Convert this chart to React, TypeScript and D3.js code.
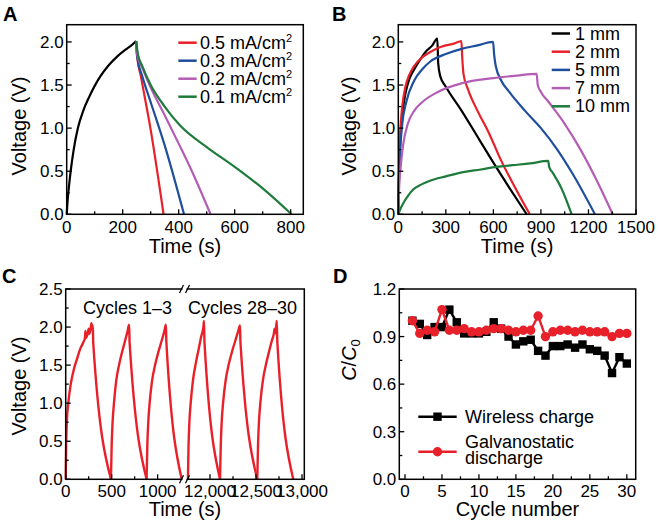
import React from "react";
import * as d3 from "d3";

type Pt = [number, number];
const FONT = "'Liberation Sans', Arial, Helvetica, sans-serif";

const RED = "#e8202a";
const BLUE = "#1f4e9e";
const PURPLE = "#b35db5";
const GREEN = "#1e7b3c";
const BLACK = "#000000";

// ---------- Panel A ----------
const aCharge: Pt[] = [[0, 0], [3, 0.15], [8, 0.32], [15, 0.52], [25, 0.75], [40, 1.0], [60, 1.21], [80, 1.36], [100, 1.49], [120, 1.6], [150, 1.73], [180, 1.83], [210, 1.91], [235, 1.97], [248, 2.01]];
const aDis05: Pt[] = [[248, 2.01], [251, 1.85], [265, 1.6], [300, 0.98], [346, 0]];
const aDis03: Pt[] = [[248, 2.01], [252, 1.82], [270, 1.6], [300, 1.3], [350, 0.8], [419, 0]];
const aDis02: Pt[] = [[248, 2.01], [252, 1.85], [270, 1.7], [300, 1.47], [350, 1.15], [400, 0.82], [450, 0.48], [514, 0]];
const aDis01: Pt[] = [[248, 2.01], [255, 1.85], [270, 1.72], [300, 1.5], [350, 1.25], [405, 1.03], [500, 0.78], [600, 0.55], [700, 0.3], [803, 0]];
const aLegend = ["0.5", "0.3", "0.2", "0.1"];
const aColors = [RED, BLUE, PURPLE, GREEN];

// ---------- Panel B ----------
const b1mm: Pt[] = [[0, 0], [5, 0.5], [12, 0.85], [25, 1.15], [45, 1.4], [70, 1.57], [100, 1.68], [140, 1.8], [180, 1.9], [215, 1.96], [246, 2.04], [252, 1.75], [265, 1.6], [300, 1.48], [400, 1.2], [500, 0.9], [600, 0.6], [700, 0.31], [810, 0]];
const b2mm: Pt[] = [[0, 0], [5, 0.6], [12, 0.95], [25, 1.25], [45, 1.48], [70, 1.62], [100, 1.72], [150, 1.82], [200, 1.88], [250, 1.93], [300, 1.96], [350, 1.98], [398, 2.01], [404, 1.8], [412, 1.62], [440, 1.45], [500, 1.2], [570, 0.95], [650, 0.62], [740, 0.3], [830, 0]];
const b5mm: Pt[] = [[0, 0], [5, 0.45], [12, 0.75], [25, 1.05], [50, 1.3], [100, 1.55], [150, 1.68], [200, 1.77], [300, 1.86], [400, 1.92], [500, 1.96], [598, 2.0], [605, 1.85], [615, 1.72], [650, 1.55], [700, 1.42], [800, 1.2], [900, 1.0], [1000, 0.76], [1100, 0.47], [1241, 0]];
const b7mm: Pt[] = [[0, 0], [5, 0.3], [15, 0.55], [30, 0.8], [60, 1.05], [100, 1.2], [150, 1.3], [250, 1.42], [400, 1.52], [600, 1.58], [750, 1.61], [873, 1.63], [880, 1.5], [900, 1.42], [950, 1.3], [1050, 1.05], [1150, 0.75], [1250, 0.4], [1353, 0]];
const b10mm: Pt[] = [[0, 0], [15, 0.07], [35, 0.14], [60, 0.21], [95, 0.29], [150, 0.35], [200, 0.39], [300, 0.44], [410, 0.49], [520, 0.52], [620, 0.55], [720, 0.57], [831, 0.59], [946, 0.62], [952, 0.55], [975, 0.48], [1030, 0.3], [1094, 0]];
const bLegend = ["1 mm", "2 mm", "5 mm", "7 mm", "10 mm"];
const bColors = [BLACK, RED, BLUE, PURPLE, GREEN];

// ---------- Panel C (one array per cycle) ----------
const cCycle1: Pt[] = [[0, 0], [5, 0.45], [12, 0.75], [28, 1.0], [55, 1.25], [90, 1.45], [120, 1.57], [160, 1.72], [192, 1.8], [210, 1.86], [215, 1.95], [222, 1.86], [240, 1.92], [250, 1.98], [256, 1.91], [270, 1.97], [280, 2.05], [286, 1.97], [295, 2.02], [299, 1.8], [492, 0]];
const cCycle2: Pt[] = [[492, 0], [500, 0.45], [510, 0.75], [525, 1.0], [550, 1.3], [580, 1.5], [615, 1.68], [646, 1.82], [672, 1.94], [690, 2.03], [695, 1.8], [880, 0]];
const cCycle3: Pt[] = [[880, 0], [888, 0.45], [898, 0.75], [913, 1.0], [940, 1.3], [972, 1.5], [1010, 1.68], [1044, 1.82], [1072, 1.94], [1090, 2.03], [1095, 1.8], [1262, 0]];
const cCycle28: Pt[] = [[11760, 0], [11767, 0.45], [11776, 0.75], [11790, 1.0], [11815, 1.3], [11845, 1.52], [11875, 1.7], [11905, 1.88], [11928, 2.0], [11935, 2.08], [11940, 1.8], [12109, 0]];
const cCycle29: Pt[] = [[12109, 0], [12117, 0.45], [12127, 0.75], [12142, 1.0], [12170, 1.3], [12202, 1.5], [12240, 1.68], [12275, 1.82], [12305, 1.94], [12326, 2.02], [12331, 1.8], [12514, 0]];
const cCycle30: Pt[] = [[12514, 0], [12522, 0.45], [12532, 0.75], [12547, 1.0], [12575, 1.3], [12607, 1.5], [12642, 1.68], [12672, 1.82], [12695, 1.92], [12702, 1.98], [12710, 1.92], [12718, 1.97], [12725, 2.08], [12732, 1.8], [12905, 0]];

// ---------- Panel D ----------
const dCycles = d3.range(1, 31);
const dWireless = [1.0, 0.98, 0.91, 0.96, 0.96, 1.07, 0.99, 0.92, 0.92, 0.92, 0.93, 0.99, 0.95, 0.9, 0.85, 0.87, 0.88, 0.81, 0.78, 0.84, 0.84, 0.85, 0.83, 0.85, 0.82, 0.81, 0.78, 0.67, 0.77, 0.73];
const dGalvano = [1.0, 0.92, 0.94, 0.93, 1.07, 0.94, 0.94, 0.95, 0.93, 0.93, 0.94, 0.95, 0.95, 0.94, 0.93, 0.94, 0.94, 1.03, 0.9, 0.93, 0.94, 0.94, 0.93, 0.94, 0.93, 0.93, 0.93, 0.9, 0.92, 0.92];

type Scale = d3.ScaleLinear<number, number>;

function Frame({ x0, x1, y0, y1 }: { x0: number; x1: number; y0: number; y1: number }) {
  return <rect x={x0} y={y0} width={x1 - x0} height={y1 - y0} fill="none" stroke="#000" strokeWidth={1.5} />;
}

function XTicks({ x, y0, major, minor, labelY, fmt, fs = 17 }: { x: Scale; y0: number; major: number[]; minor: number[]; labelY: number; fmt: (v: number) => string; fs?: number }) {
  return (
    <g>
      {major.map((v) => (
        <line key={"M" + v} x1={x(v)} x2={x(v)} y1={y0} y2={y0 - 5} stroke="#000" strokeWidth={1.3} />
      ))}
      {minor.map((v) => (
        <line key={"m" + v} x1={x(v)} x2={x(v)} y1={y0} y2={y0 - 3} stroke="#000" strokeWidth={1.3} />
      ))}
      {major.map((v) => (
        <text key={"t" + v} x={x(v)} y={labelY} textAnchor="middle" fontSize={fs} fontFamily={FONT}>
          {fmt(v)}
        </text>
      ))}
    </g>
  );
}

function YTicks({ y, x0, major, minor, fmt, fs = 17 }: { y: Scale; x0: number; major: number[]; minor: number[]; fmt: (v: number) => string; fs?: number }) {
  return (
    <g>
      {major.map((v) => (
        <line key={"M" + v} x1={x0} x2={x0 + 5} y1={y(v)} y2={y(v)} stroke="#000" strokeWidth={1.3} />
      ))}
      {minor.map((v) => (
        <line key={"m" + v} x1={x0} x2={x0 + 3} y1={y(v)} y2={y(v)} stroke="#000" strokeWidth={1.3} />
      ))}
      {major.map((v) => (
        <text key={"t" + v} x={x0 - 3} y={y(v) + 6} textAnchor="end" fontSize={fs} fontFamily={FONT}>
          {fmt(v)}
        </text>
      ))}
    </g>
  );
}

function Curve({ data, x, y, color, width = 2.2, curve = d3.curveMonotoneX }: { data: Pt[]; x: Scale; y: Scale; color: string; width?: number; curve?: any }) {
  const gen = d3.line<Pt>().x((d) => x(d[0])).y((d) => y(d[1])).curve(curve);
  return <path d={gen(data) || ""} fill="none" stroke={color} strokeWidth={width} strokeLinejoin="round" />;
}

function PanelLabel({ x, y, t }: { x: number; y: number; t: string }) {
  return (
    <text x={x} y={y} fontSize={20} fontWeight="bold" fontFamily={FONT}>
      {t}
    </text>
  );
}

function YTitle({ x, y, children }: { x: number; y: number; children: React.ReactNode }) {
  return (
    <text transform={`translate(${x},${y}) rotate(-90)`} textAnchor="middle" fontSize={20} fontFamily={FONT}>
      {children}
    </text>
  );
}

const f1 = (v: number) => v.toFixed(1);
const f0 = (v: number) => String(v);

export default function App() {
  // Panel A
  const axL = 66.7, axR = 303.3, ayT = 24.7, ayB = 214.3;
  const ax = d3.scaleLinear().domain([0, 845]).range([axL, axR]);
  const ay = d3.scaleLinear().domain([0, 2.2]).range([ayB, ayT]);
  // Panel B
  const bxL = 398.3, bxR = 636;
  const bx = d3.scaleLinear().domain([0, 1500]).range([bxL, bxR]);
  const by = d3.scaleLinear().domain([0, 2.2]).range([ayB, ayT]);
  // Panel C
  const cxL = 65.7, cxR = 304.3, cyT = 289, cyB = 479.3;
  const brk1 = 182.5, brk2 = 186.5;
  const cx1 = d3.scaleLinear().domain([0, 1265]).range([cxL, brk1 - 0.5]);
  const cx2 = d3.scaleLinear().domain([11750, 13025]).range([brk2 + 0.5, cxR]);
  const cy = d3.scaleLinear().domain([0, 2.5]).range([cyB, cyT]);
  // Panel D
  const dxL = 399.3, dxR = 635.7;
  const dx = d3.scaleLinear().domain([-0.77, 31.2]).range([dxL, dxR]);
  const dy = d3.scaleLinear().domain([0, 1.2]).range([cyB, cyT]);

  const vMajor = [0, 0.5, 1, 1.5, 2];
  const vMinor = [0.25, 0.75, 1.25, 1.75];

  const wirelessPts: Pt[] = dCycles.map((c, i) => [c, dWireless[i]]);
  const galvPts: Pt[] = dCycles.map((c, i) => [c, dGalvano[i]]);

  const fmtComma = d3.format(",");
  const abTickY = 233;
  const abTitleY = 253;

  return (
    <svg width={660} height={526} style={{ position: "absolute", left: 0, top: 0, background: "#fff" }} fontFamily={FONT}>
      <rect x={0} y={0} width={660} height={526} fill="#fff" />
      {/* ===== Panel A ===== */}
      <PanelLabel x={3} y={21} t="A" />
      <Curve data={aCharge} x={ax} y={ay} color={BLACK} />
      {[aDis05, aDis03, aDis02, aDis01].map((d, i) => (
        <Curve key={i} data={d} x={ax} y={ay} color={aColors[i]} />
      ))}
      <Frame x0={axL} x1={axR} y0={ayT} y1={ayB} />
      <XTicks x={ax} y0={ayB} major={[0, 200, 400, 600, 800]} minor={[100, 300, 500, 700]} labelY={abTickY} fmt={f0} />
      <YTicks y={ay} x0={axL} major={vMajor} minor={vMinor} fmt={f1} />
      <text x={(axL + axR) / 2} y={abTitleY} textAnchor="middle" fontSize={20}>Time (s)</text>
      <YTitle x={26} y={126}>Voltage (V)</YTitle>
      {aLegend.map((l, i) => (
        <g key={l}>
          <line x1={178.3} x2={196.7} y1={42.7 + 18 * i} y2={42.7 + 18 * i} stroke={aColors[i]} strokeWidth={2.5} />
          <text x={200} y={42.7 + 18 * i + 6} fontSize={18}>
            {l} mA/cm<tspan dy={-7} fontSize={11}>2</tspan>
          </text>
        </g>
      ))}

      {/* ===== Panel B ===== */}
      <PanelLabel x={332} y={21} t="B" />
      {[b1mm, b2mm, b5mm, b7mm, b10mm].map((d, i) => (
        <Curve key={i} data={d} x={bx} y={by} color={bColors[i]} />
      ))}
      <Frame x0={bxL} x1={bxR} y0={ayT} y1={ayB} />
      <XTicks x={bx} y0={ayB} major={[0, 300, 600, 900, 1200, 1500]} minor={[150, 450, 750, 1050, 1350]} labelY={abTickY} fmt={f0} />
      <YTicks y={by} x0={bxL} major={vMajor} minor={vMinor} fmt={f1} />
      <text x={(bxL + bxR) / 2} y={abTitleY} textAnchor="middle" fontSize={20}>Time (s)</text>
      <YTitle x={356} y={126}>Voltage (V)</YTitle>
      {bLegend.map((l, i) => (
        <g key={l}>
          <line x1={551.7} x2={570} y1={33.5 + 18.2 * i} y2={33.5 + 18.2 * i} stroke={bColors[i]} strokeWidth={2.5} />
          <text x={575} y={33.5 + 18.2 * i + 6} fontSize={18}>{l}</text>
        </g>
      ))}

      {/* ===== Panel C ===== */}
      <PanelLabel x={2} y={283} t="C" />
      {[cCycle1, cCycle2, cCycle3].map((d, i) => (
        <Curve key={"L" + i} data={d} x={cx1} y={cy} color={RED} width={2.4} />
      ))}
      {[cCycle28, cCycle29, cCycle30].map((d, i) => (
        <Curve key={"R" + i} data={d} x={cx2} y={cy} color={RED} width={2.4} />
      ))}
      <Frame x0={cxL} x1={cxR} y0={cyT} y1={cyB} />
      {/* axis break */}
      <rect x={brk1} y={cyT - 3} width={brk2 - brk1} height={6} fill="#fff" />
      <rect x={brk1} y={cyB - 3} width={brk2 - brk1} height={6} fill="#fff" />
      {[cyT, cyB].map((yy) => (
        <g key={yy}>
          <line x1={brk1 - 3} x2={brk1 + 1} y1={yy + 4} y2={yy - 4} stroke="#000" strokeWidth={1.2} />
          <line x1={brk2 - 1} x2={brk2 + 3} y1={yy + 4} y2={yy - 4} stroke="#000" strokeWidth={1.2} />
        </g>
      ))}
      <XTicks x={cx1} y0={cyB} major={[0, 500, 1000]} minor={[250, 750]} labelY={497} fmt={f0} />
      <XTicks x={cx2} y0={cyB} major={[12000, 12500, 13000]} minor={[12250, 12750]} labelY={497} fmt={fmtComma} />
      <YTicks y={cy} x0={cxL} major={[0, 0.5, 1, 1.5, 2, 2.5]} minor={[0.25, 0.75, 1.25, 1.75, 2.25]} fmt={f1} />
      <text x={(cxL + cxR) / 2} y={516} textAnchor="middle" fontSize={20}>Time (s)</text>
      <YTitle x={26} y={386}>Voltage (V)</YTitle>
      <text x={127.5} y={314} textAnchor="middle" fontSize={18}>Cycles 1–3</text>
      <text x={242.5} y={314} textAnchor="middle" fontSize={18}>Cycles 28–30</text>

      {/* ===== Panel D ===== */}
      <PanelLabel x={333} y={283} t="D" />
      <Curve data={wirelessPts} x={dx} y={dy} color={BLACK} width={2.4} curve={d3.curveLinear} />
      {wirelessPts.map((p, i) => (
        <rect key={"s" + i} x={dx(p[0]) - 4.2} y={dy(p[1]) - 4.2} width={8.4} height={8.4} fill={BLACK} />
      ))}
      <Curve data={galvPts} x={dx} y={dy} color={RED} width={2.4} curve={d3.curveLinear} />
      {galvPts.map((p, i) => (
        <circle key={"c" + i} cx={dx(p[0])} cy={dy(p[1])} r={4.7} fill={RED} />
      ))}
      <Frame x0={dxL} x1={dxR} y0={cyT} y1={cyB} />
      <XTicks x={dx} y0={cyB} major={[0, 5, 10, 15, 20, 25, 30]} minor={[2.5, 7.5, 12.5, 17.5, 22.5, 27.5]} labelY={497} fmt={f0} />
      <YTicks y={dy} x0={dxL} major={[0, 0.3, 0.6, 0.9, 1.2]} minor={[0.15, 0.45, 0.75, 1.05]} fmt={f1} />
      <text x={(dxL + dxR) / 2} y={516} textAnchor="middle" fontSize={20}>Cycle number</text>
      <YTitle x={356} y={360}>
        <tspan fontStyle="italic">C</tspan>/<tspan fontStyle="italic">C</tspan>
        <tspan dy={4} fontSize={13}>0</tspan>
      </YTitle>
      <line x1={418.3} x2={456.7} y1={416.7} y2={416.7} stroke={BLACK} strokeWidth={2.4} />
      <rect x={437.5 - 4.2} y={416.7 - 4.2} width={8.4} height={8.4} fill={BLACK} />
      <text x={465} y={423} fontSize={18}>Wireless charge</text>
      <line x1={418.3} x2={456.7} y1={451.7} y2={451.7} stroke={RED} strokeWidth={2.4} />
      <circle cx={437.5} cy={451.7} r={4.7} fill={RED} />
      <text x={465} y={447.5} fontSize={18}>Galvanostatic</text>
      <text x={465} y={463.5} fontSize={18}>discharge</text>
    </svg>
  );
}
